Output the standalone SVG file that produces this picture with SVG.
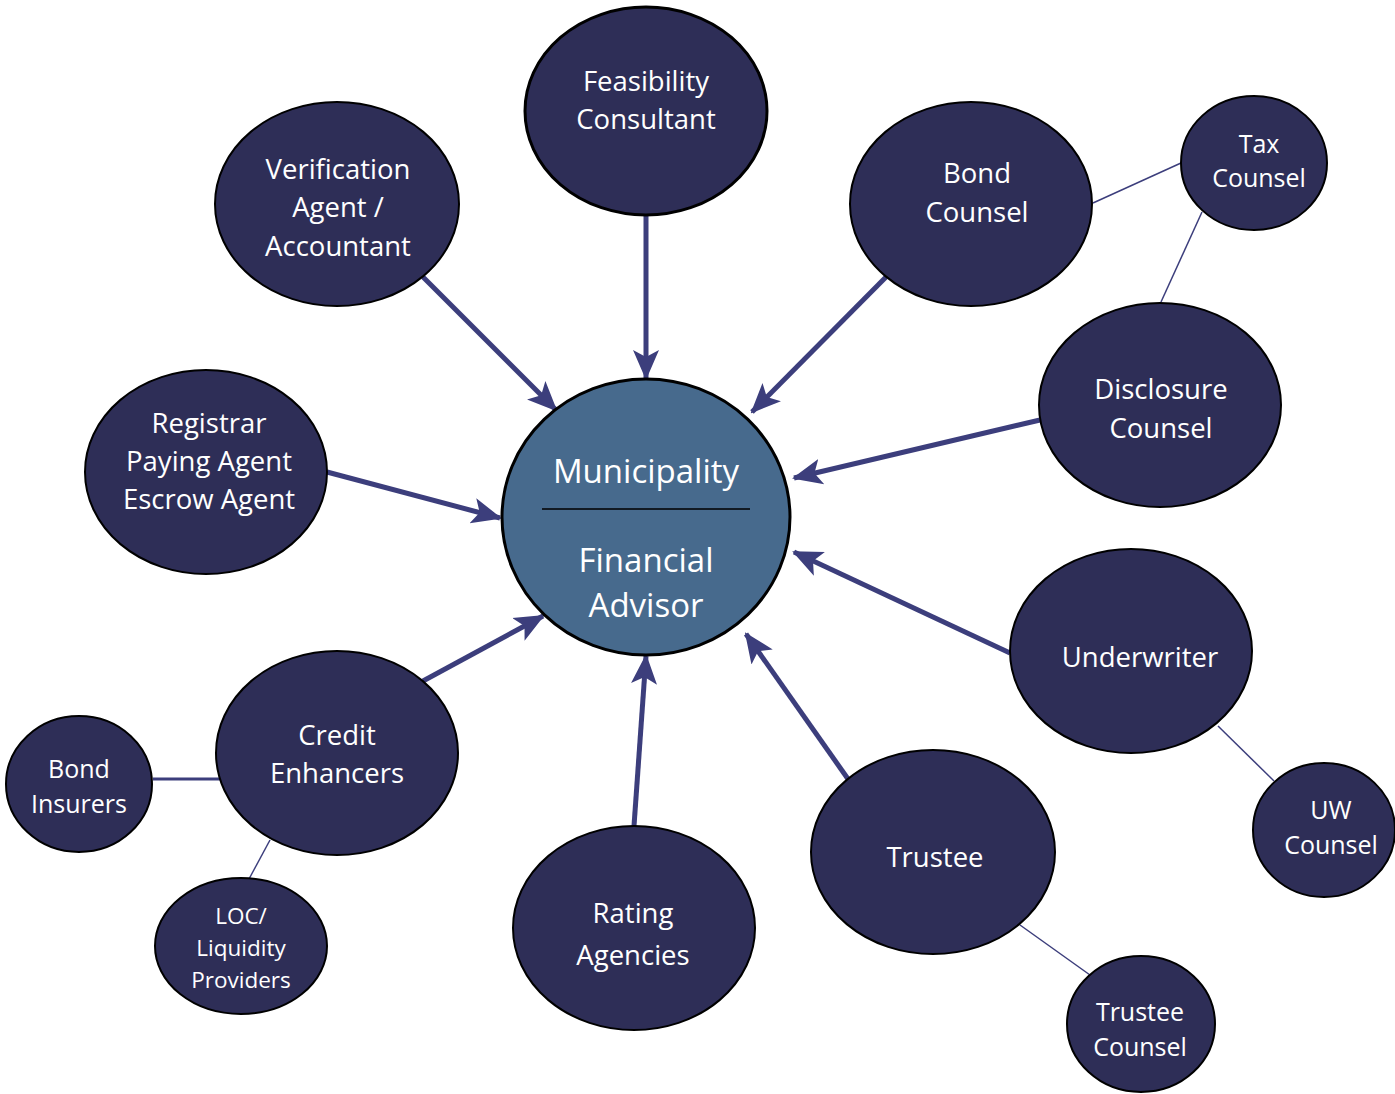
<svg xmlns="http://www.w3.org/2000/svg" width="1395" height="1094" viewBox="0 0 1395 1094">
<style>
.n{fill:#2e2e57;stroke:#000;stroke-width:2}
.c{fill:#476a8d;stroke:#000;stroke-width:3}
text{font-family:"Open Sans","Noto Sans",sans-serif;fill:#fff;text-anchor:middle;dominant-baseline:central}
.t{font-size:27.5px}
.s{font-size:25px}
.x{font-size:22.5px}
.b{font-size:33px}
.a{stroke:#3c3e7c;stroke-width:5;fill:none;marker-end:url(#ah)}
.l{stroke:#3c3e7c;stroke-width:1.5;fill:none}
</style>
<defs>
<marker id="ah" markerUnits="userSpaceOnUse" markerWidth="30" markerHeight="30" viewBox="0 0 30 30" refX="28" refY="15" orient="auto">
<path d="M0,2 L30,15 L0,28 L7,15 Z" fill="#3c3e7c"/>
</marker>
</defs>
<g id="connectors">
<line class="a" x1="646" y1="215" x2="646" y2="378"/>
<line class="a" x1="423" y1="277" x2="556" y2="410"/>
<line class="a" x1="886" y1="277" x2="752" y2="412"/>
<line class="a" x1="1040" y1="420" x2="794" y2="478"/>
<line class="a" x1="327" y1="472" x2="500" y2="518"/>
<line class="a" x1="1010" y1="653" x2="794" y2="552"/>
<line class="a" x1="848" y1="779" x2="746" y2="634"/>
<line class="a" x1="634" y1="826" x2="646" y2="656"/>
<line class="a" x1="423" y1="681" x2="543" y2="616"/>
<line class="l" x1="1093" y1="203" x2="1181" y2="163"/>
<line class="l" x1="1202" y1="212" x2="1161" y2="302"/>
<line class="l" x1="1218" y1="726" x2="1274" y2="781"/>
<line class="l" x1="1020" y1="925" x2="1090" y2="975"/>
<line class="l" x1="153" y1="779" x2="226" y2="779" style="stroke-width:3"/>
<line class="l" x1="270" y1="840" x2="249" y2="879"/>
</g>
<g id="center">
<ellipse class="c" cx="646" cy="517" rx="144" ry="138"/>
<line x1="542" y1="509" x2="750" y2="509" stroke="#000" stroke-width="1.5"/>
<text class="b" x="646" y="470">Municipality</text>
<text class="b" x="646" y="559">Financial</text>
<text class="b" x="646" y="604">Advisor</text>
</g>
<g id="feasibility">
<ellipse class="n" cx="646" cy="111" rx="121" ry="104" style="stroke-width:3"/>
<text class="t" x="646" y="80">Feasibility</text>
<text class="t" x="646" y="118">Consultant</text>
</g>
<g id="verification">
<ellipse class="n" cx="337" cy="204" rx="122" ry="102"/>
<text class="t" x="338" y="168">Verification</text>
<text class="t" x="338" y="206">Agent /</text>
<text class="t" x="338" y="245">Accountant</text>
</g>
<g id="bond-counsel">
<ellipse class="n" cx="971" cy="204" rx="121" ry="102"/>
<text class="t" x="977" y="172">Bond</text>
<text class="t" x="977" y="211">Counsel</text>
</g>
<g id="tax-counsel">
<ellipse class="n" cx="1254" cy="163" rx="73" ry="67"/>
<text class="s" x="1259" y="143">Tax</text>
<text class="s" x="1259" y="177">Counsel</text>
</g>
<g id="disclosure-counsel">
<ellipse class="n" cx="1160" cy="405" rx="121" ry="102"/>
<text class="t" x="1161" y="388">Disclosure</text>
<text class="t" x="1161" y="427">Counsel</text>
</g>
<g id="registrar">
<ellipse class="n" cx="206" cy="472" rx="121" ry="102"/>
<text class="t" x="209" y="422">Registrar</text>
<text class="t" x="209" y="460">Paying Agent</text>
<text class="t" x="209" y="498">Escrow Agent</text>
</g>
<g id="underwriter">
<ellipse class="n" cx="1131" cy="651" rx="121" ry="102"/>
<text class="t" x="1140" y="656">Underwriter</text>
</g>
<g id="uw-counsel">
<ellipse class="n" cx="1324" cy="830" rx="71" ry="67"/>
<text class="s" x="1331" y="809">UW</text>
<text class="s" x="1331" y="844">Counsel</text>
</g>
<g id="credit-enhancers">
<ellipse class="n" cx="337" cy="753" rx="121" ry="102"/>
<text class="t" x="337" y="734">Credit</text>
<text class="t" x="337" y="772">Enhancers</text>
</g>
<g id="bond-insurers">
<ellipse class="n" cx="79" cy="784" rx="73" ry="68"/>
<text class="s" x="79" y="768">Bond</text>
<text class="s" x="79" y="803">Insurers</text>
</g>
<g id="loc">
<ellipse class="n" cx="241" cy="946" rx="86" ry="68"/>
<text class="x" x="241" y="915">LOC/</text>
<text class="x" x="241" y="947">Liquidity</text>
<text class="x" x="241" y="979">Providers</text>
</g>
<g id="rating-agencies">
<ellipse class="n" cx="634" cy="928" rx="121" ry="102"/>
<text class="t" x="633" y="912">Rating</text>
<text class="t" x="633" y="954">Agencies</text>
</g>
<g id="trustee">
<ellipse class="n" cx="933" cy="852" rx="122" ry="102"/>
<text class="t" x="935" y="856">Trustee</text>
</g>
<g id="trustee-counsel">
<ellipse class="n" cx="1141" cy="1024" rx="74" ry="68"/>
<text class="s" x="1140" y="1011">Trustee</text>
<text class="s" x="1140" y="1046">Counsel</text>
</g>
</svg>
